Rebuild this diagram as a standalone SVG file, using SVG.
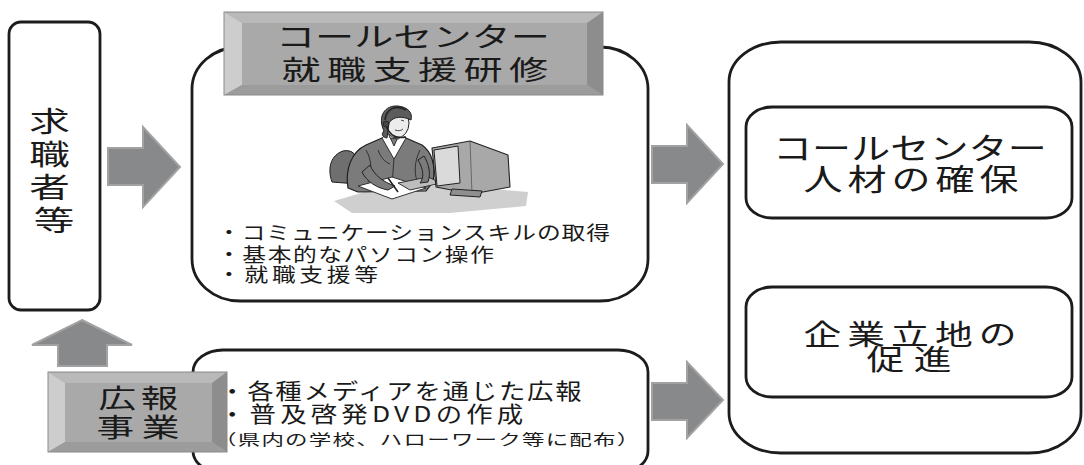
<svg xmlns="http://www.w3.org/2000/svg" width="1084" height="465" viewBox="0 0 1084 465">
  <style>
    .frame { fill: #ffffff; stroke: #1c1c1c; stroke-width: 2.8; }
    .arrow { fill: #88898b; stroke: #a2a2a2; stroke-width: 2; stroke-linejoin: miter; }
    .bev-outline { fill: none; stroke: #8a8a8a; stroke-width: 1; }
    .bev-face { fill: #a9a9a9; }
    .bev-top { fill: #b9b9b9; }
    .bev-left { fill: #cdcdcd; }
    .bev-right { fill: #8d8d8d; }
    .bev-bottom { fill: #9c9c9c; }
    text { font-family: "Noto Sans CJK JP", "Noto Sans CJK SC", sans-serif; fill: #1a1a1a; }
  </style>

  <!-- connectors: block arrows -->
  <g id="connectors">
    <polygon class="arrow" points="108,148 143,148 143,127 180,167 143,207 143,185 108,185"/>
    <polygon class="arrow" points="652,146 687,146 687,125 723,164 687,203 687,183 652,183"/>
    <polygon class="arrow" points="652,383 687,383 687,362 723,400 687,438 687,420 652,420"/>
    <polygon class="arrow" points="82,320 132,345 107,345 107,366 58,366 58,345 32,345"/>
  </g>

  <!-- job seekers -->
  <g id="job-seekers">
    <rect class="frame" x="9" y="22" width="91" height="288" rx="12" ry="12"/>
    <text font-size="28" text-anchor="middle" transform="scale(1.45,1)">
      <tspan x="37.24" y="132">求</tspan>
      <tspan x="37.24" y="165">職</tspan>
      <tspan x="37.24" y="198">者</tspan>
      <tspan x="37.24" y="231">等</tspan>
    </text>
  </g>

  <!-- training programme -->
  <g id="training">
    <rect class="frame" x="192" y="47" width="456" height="254" rx="48" ry="42"/>

    <!-- operator at a desk -->
    <g id="operator" stroke-linejoin="round">
      <path d="M334,201 L392,184 L470,187 L528,192 L526,206 L450,213 L352,213 Z" fill="#cfcfcf"/>
      <path d="M332,182 C327,168 331,155 343,151 C352,149 358,155 358,165 L357,184 Z" fill="#6f6f6f" stroke="#1e1e1e" stroke-width="1"/>
      <path d="M348,188 C345,170 351,152 366,145 L382,138 L406,138 L422,145 C432,152 436,166 433,182 L426,191 L358,192 Z" fill="#7b7b7b" stroke="#1e1e1e" stroke-width="1.2"/>
      <path d="M366,150 C372,160 372,172 368,182 M420,150 C414,162 414,174 418,184 M394,158 L392,186 M378,150 C381,158 385,162 390,164" fill="none" stroke="#2a2a2a" stroke-width="0.9"/>
      <path d="M382,138 L394,159 L406,138 L400,133 L394,146 L388,133 Z" fill="#ffffff" stroke="#222" stroke-width="0.9"/>
      <path d="M389,129 L390,138 L399,139 L401,130 Z" fill="#e6e6e6" stroke="#222" stroke-width="0.8"/>
      <ellipse cx="397" cy="123" rx="12" ry="15" fill="#ececec" stroke="#222" stroke-width="1"/>
      <path d="M401,120 L404,121 M395,130 C398,131 401,131 403,129" fill="none" stroke="#333" stroke-width="0.9"/>
      <path d="M384,131 C377,116 385,105 398,106 C408,107 413,113 411,120 C403,116 393,116 389,123 L387,138 C382,137 381,134 384,131 Z" fill="#5c5c5c" stroke="#222" stroke-width="1"/>
      <path d="M385,120 C386,109 396,104 406,110" fill="none" stroke="#222" stroke-width="1.6"/>
      <path d="M386,125 C389,135 396,139 406,137" fill="none" stroke="#222" stroke-width="1.4"/>
      <circle cx="386" cy="124" r="3" fill="#444" stroke="#222" stroke-width="0.8"/>
      <path d="M358,186 L392,177 L426,188 L392,199 Z" fill="#ffffff" stroke="#333" stroke-width="1"/>
      <path d="M362,172 C367,182 377,188 388,190 L395,186 C383,182 374,175 370,165 Z" fill="#7b7b7b" stroke="#222" stroke-width="1"/>
      <line x1="388" y1="178" x2="398" y2="192" stroke="#222" stroke-width="1.6"/>
      <path d="M398,183 L428,177 L441,183 L410,190 Z" fill="#bdbdbd" stroke="#333" stroke-width="1"/>
      <path d="M418,160 C424,170 424,178 420,183 L428,182 C431,174 429,164 424,156 Z" fill="#7b7b7b" stroke="#222" stroke-width="1"/>
      <path d="M432,148 L470,141 L508,155 L510,187 L472,194 L436,187 Z" fill="#a8a8a8" stroke="#222" stroke-width="1.1"/>
      <path d="M434,150 L458,146 L460,183 L437,186 Z" fill="#dadada" stroke="#222" stroke-width="1"/>
      <path d="M470,141 L472,194" fill="none" stroke="#555" stroke-width="0.8"/>
      <path d="M452,189 L482,191 L480,197 L450,195 Z" fill="#8f8f8f" stroke="#222" stroke-width="1"/>
    </g>

    <text font-size="19" transform="scale(1.25,1)">
      <tspan x="173.6" y="240" letter-spacing="0.75">・コミュニケーションスキルの取得</tspan>
      <tspan x="173.6" y="262" letter-spacing="1.26">・基本的なパソコン操作</tspan>
      <tspan x="173.6" y="282" letter-spacing="2.96">・就職支援等</tspan>
    </text>
  </g>

  <!-- training title plate -->
  <g id="training-title">
    <rect class="bev-face" x="224" y="12" width="379" height="83"/>
    <polygon class="bev-top" points="224,12 603,12 587,23 242,23"/>
    <polygon class="bev-left" points="224,12 242,23 242,85 224,95"/>
    <polygon class="bev-right" points="603,12 603,95 587,85 587,23"/>
    <polygon class="bev-bottom" points="224,95 242,85 587,85 603,95"/>
    <rect class="bev-outline" x="224" y="12" width="379" height="83"/>
    <text font-size="27" transform="scale(1.45,1)">
      <tspan x="190.3" y="47" letter-spacing="0">コールセンター</tspan>
      <tspan x="194.1" y="80" letter-spacing="4.4">就職支援研修</tspan>
    </text>
  </g>

  <!-- public relations -->
  <g id="public-relations">
    <rect class="frame" x="193" y="350" width="455" height="123" rx="30" ry="22"/>
    <text font-size="22" transform="scale(1.2,1)">
      <tspan x="182.5" y="399" letter-spacing="1.5">・各種メディアを通じた広報</tspan>
      <tspan x="182.5" y="422" letter-spacing="3.5">・普及啓発DVDの作成</tspan>
    </text>
    <text font-size="15" transform="scale(1.5,1)" x="142.7" y="445" letter-spacing="0.8">（県内の学校、ハローワーク等に配布）</text>
  </g>

  <!-- public relations plate -->
  <g id="pr-title">
    <rect class="bev-face" x="48" y="372" width="179" height="80"/>
    <polygon class="bev-top" points="48,372 227,372 212,383 65,383"/>
    <polygon class="bev-left" points="48,372 65,383 65,442 48,452"/>
    <polygon class="bev-right" points="227,372 227,452 212,442 212,383"/>
    <polygon class="bev-bottom" points="48,452 65,442 212,442 227,452"/>
    <rect class="bev-outline" x="48" y="372" width="179" height="80"/>
    <text font-size="26" transform="scale(1.45,1)">
      <tspan x="67.9" y="408" letter-spacing="3.2">広報</tspan>
      <tspan x="66.6" y="437" letter-spacing="5.2">事業</tspan>
    </text>
  </g>

  <!-- outcomes -->
  <g id="outcomes">
    <rect class="frame" x="729" y="42" width="352" height="411" rx="52" ry="40"/>
  </g>

  <g id="staff-secured">
    <rect class="frame" x="746" y="107" width="326" height="111" rx="26" ry="20"/>
    <text font-size="30" transform="scale(1.3,1)">
      <tspan x="594.6" y="159" letter-spacing="0.1">コールセンター</tspan>
      <tspan x="618.1" y="190" letter-spacing="3.85">人材の確保</tspan>
    </text>
  </g>

  <g id="business-siting">
    <rect class="frame" x="746" y="287" width="326" height="110" rx="26" ry="20"/>
    <text font-size="28" transform="scale(1.35,1)">
      <tspan x="595.2" y="345" letter-spacing="4.45">企業立地の</tspan>
      <tspan x="641.9" y="370" letter-spacing="7">促進</tspan>
    </text>
  </g>
</svg>
